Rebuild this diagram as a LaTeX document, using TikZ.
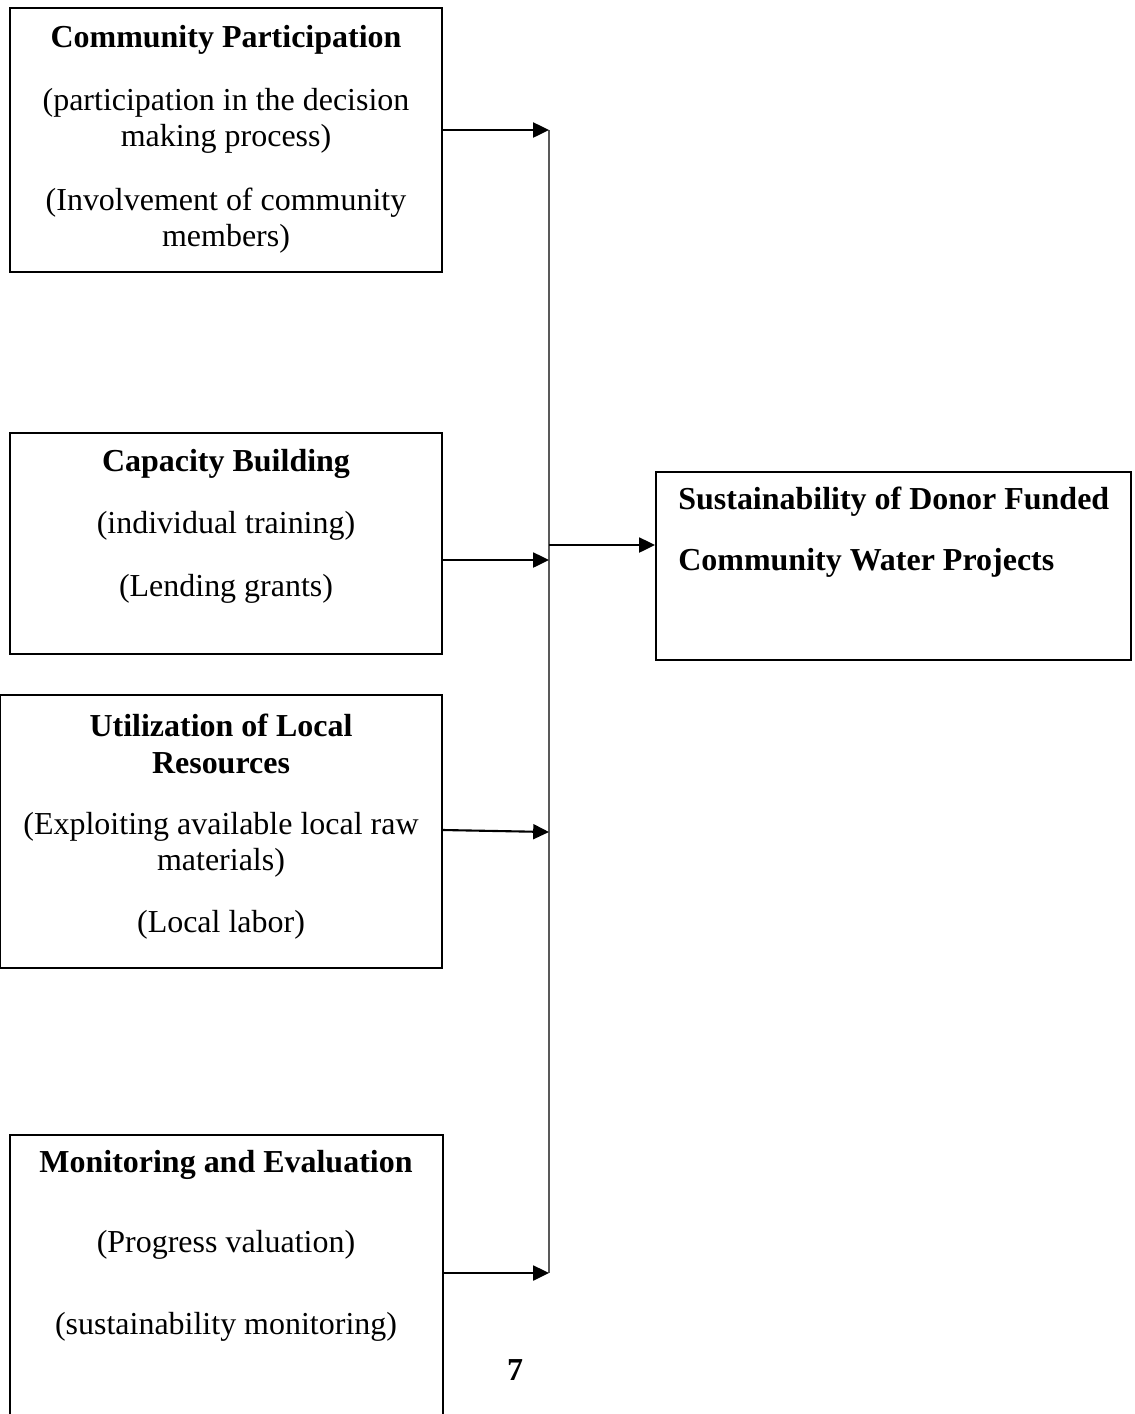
\documentclass[tikz,border=0pt]{standalone}
\usepackage{fontspec}
\setmainfont{Liberation Serif}
\usepackage{tikz}
\usetikzlibrary{positioning}
\usetikzlibrary{arrows.meta}

\begin{document}
\begin{tikzpicture}[x=0.02cm,y=-0.02cm,
							boxnode/.style={rectangle, draw=black, line width=1.2pt, inner sep=0pt},
							txt/.style={font=\fontsize{18.2}{20.6}\selectfont, align=center, inner sep=0pt},
							head/.style={txt, font=\fontsize{18.2}{20.6}\selectfont\bfseries},
							arrow/.style={line width=1.2pt, -{Triangle[length=9pt,width=8.5pt]}},
							bus/.style={line width=0.9pt, draw=black!65},
							]
							\useasboundingbox (0,0) rectangle (1135,1414);
							%Boxes
							\node[boxnode, minimum width=8.64cm, minimum height=5.28cm] (in1) at (226,140) {};
							\node[boxnode, minimum width=8.64cm, minimum height=4.42cm] (in2) at (226,543.5) {};
							\node[boxnode, minimum width=8.84cm, minimum height=5.46cm] (in3) at (221,831.5) {};
							\node[boxnode, minimum width=8.66cm, minimum height=6.0cm] (in4) at (226.5,1285) {};
							\node[boxnode, minimum width=9.5cm, minimum height=3.76cm] (out) at (893.5,566) {};
							%Texts
							\node[head] (t1) at (226,40) {Community Participation};
							\node[txt]  (t1a) at (226,121) {(participation in the decision\\making process)};
							\node[txt]  (t1b) at (226,221) {(Involvement of community\\members)};
							\node[head] (t2) at (226,464) {Capacity Building};
							\node[txt]  (t2a) at (226,526) {(individual training)};
							\node[txt]  (t2b) at (226,589) {(Lending grants)};
							\node[head] (t3) at (221,744) {Utilization of Local\\Resources};
							\node[txt]  (t3a) at (221,845) {(Exploiting available local raw\\materials)};
							\node[txt]  (t3b) at (221,925) {(Local labor)};
							\node[head] (t4) at (226,1165) {Monitoring and Evaluation};
							\node[txt]  (t4a) at (226,1245) {(Progress valuation)};
							\node[txt]  (t4b) at (226,1327) {(sustainability monitoring)};
							\node[head, align=left, anchor=west] (t5) at (678,532) {Sustainability of Donor Funded\\[14pt]Community Water Projects};
							\node[head] (page) at (515,1370) {7};
							%Bus
							\coordinate (b1) at (549,130);
							\coordinate (b2) at (549,560);
							\coordinate (b3) at (549,832);
							\coordinate (b4) at (549,1273);
							\coordinate (bo) at (549,545);
							\draw[bus] (b1) -- (b4);
							%Arrows
							\draw[arrow] (in1.east |- b1) -- (b1);
							\draw[arrow] (in2.east |- b2) -- (b2);
							\draw[arrow] (in3.east |- 0,830) -- (b3);
							\draw[arrow] (in4.east |- b4) -- (b4);
							\draw[arrow] (bo) -- (bo -| out.west);
\end{tikzpicture}
\end{document}
